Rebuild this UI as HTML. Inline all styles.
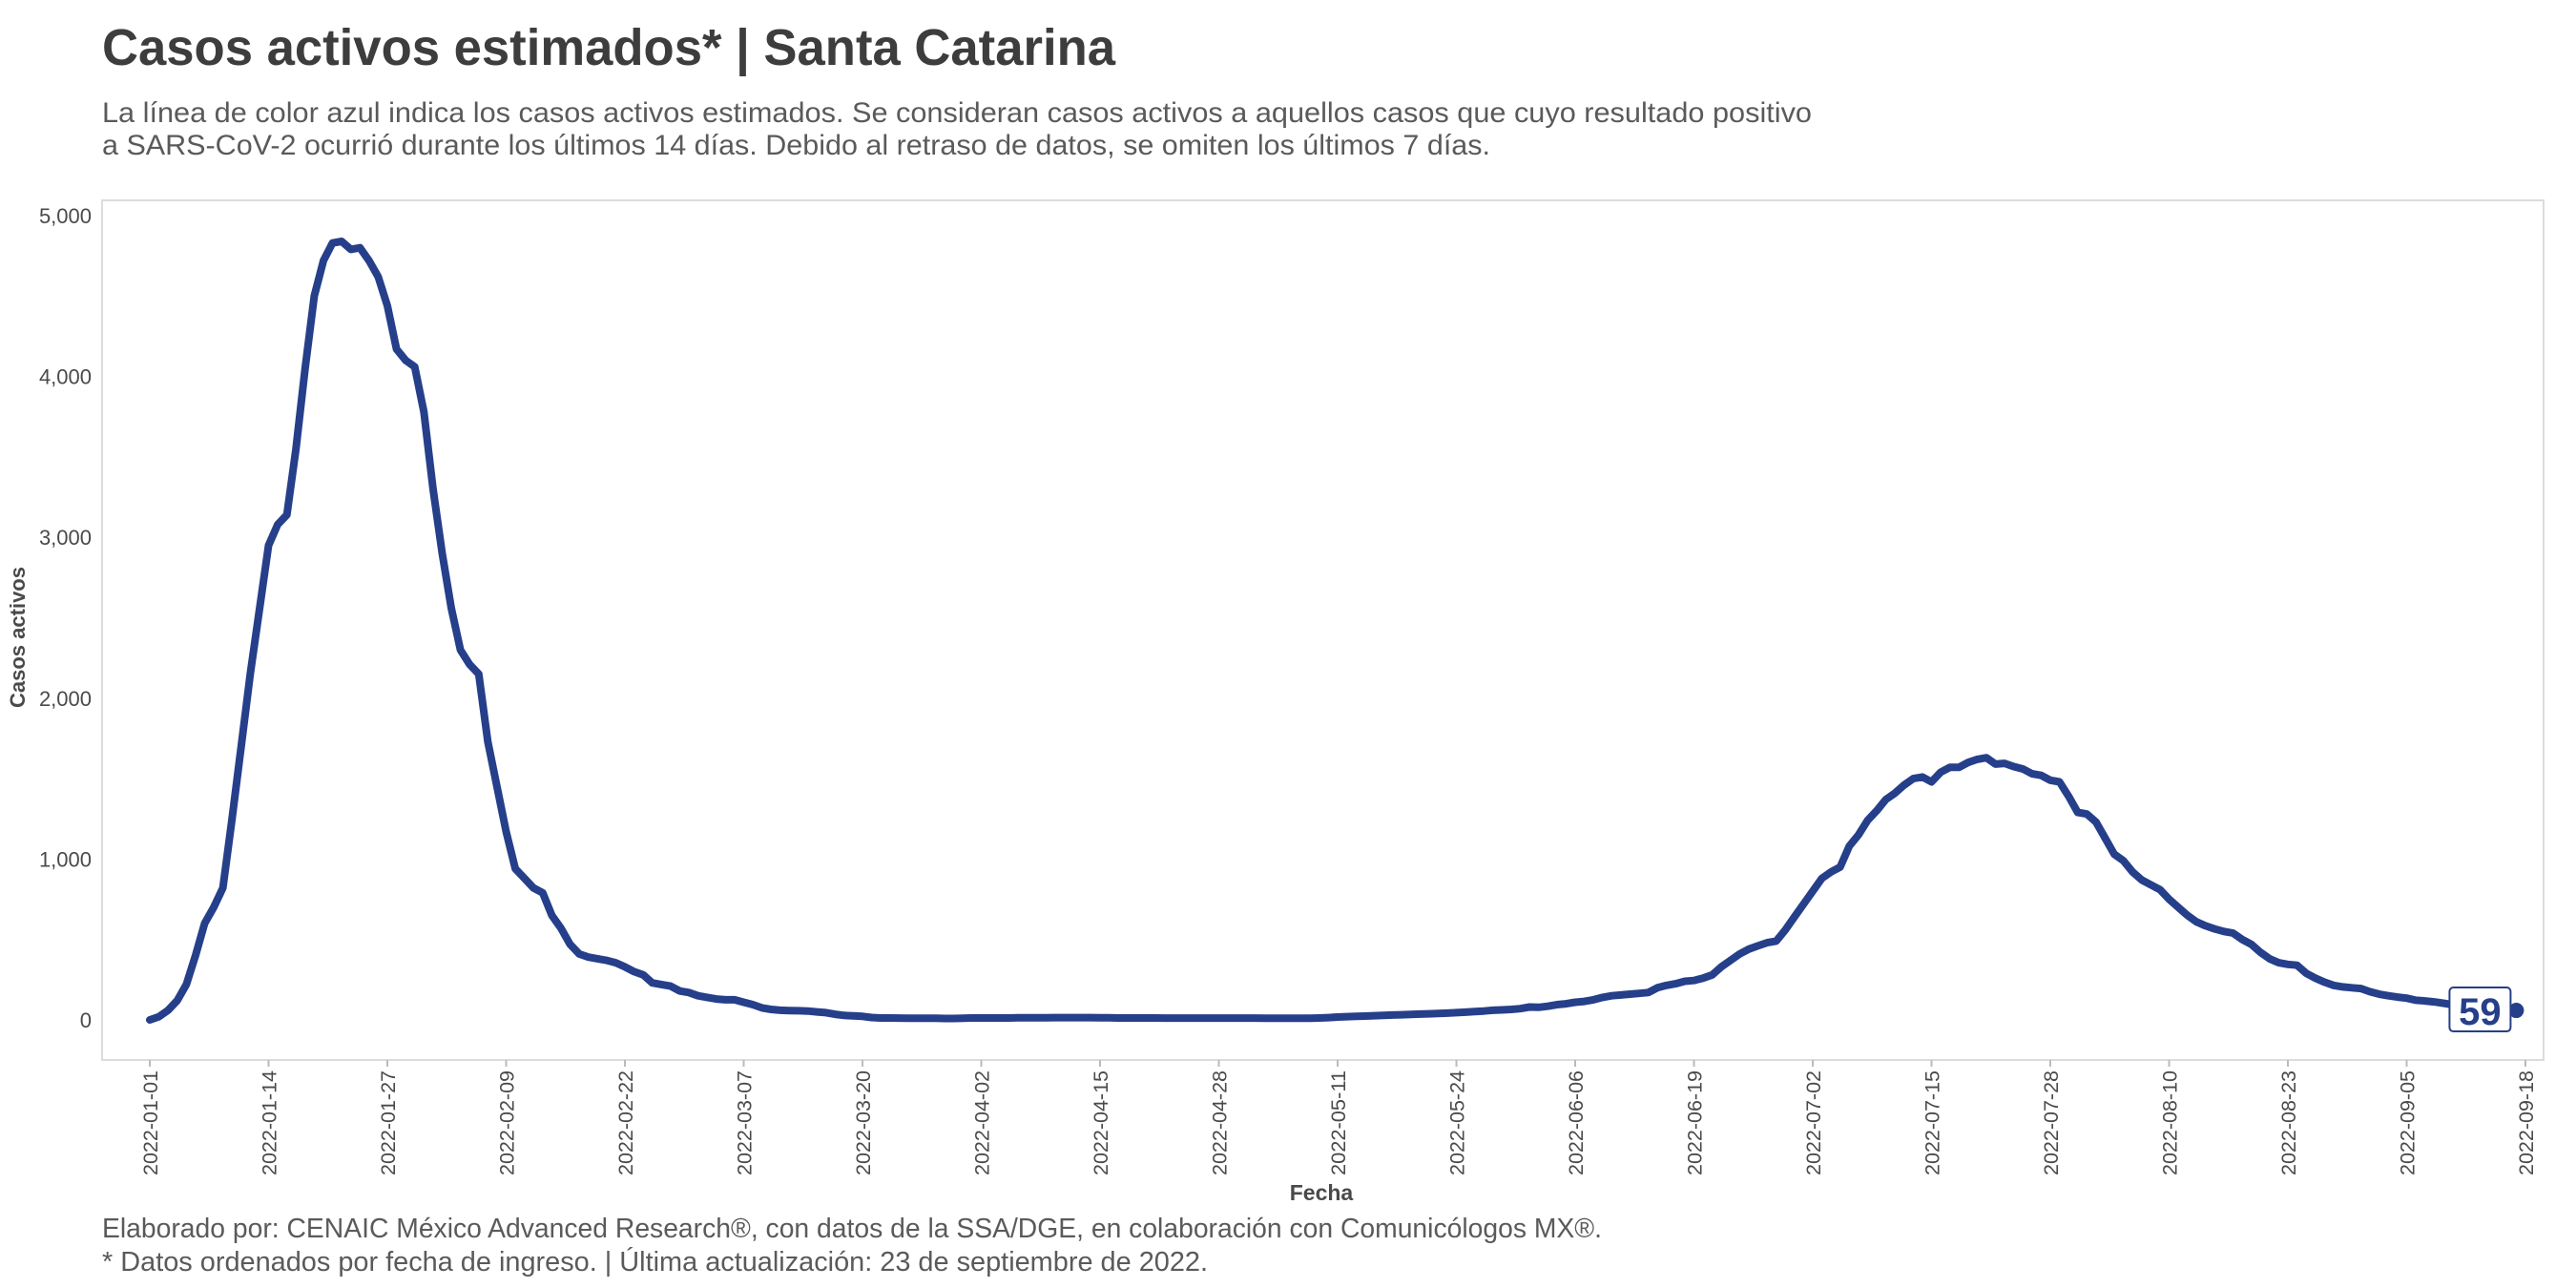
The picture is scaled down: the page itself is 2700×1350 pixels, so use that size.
<!DOCTYPE html>
<html><head><meta charset="utf-8"><style>
html,body{margin:0;padding:0;background:#fff}
svg{display:block;font-family:"Liberation Sans",sans-serif}
</style></head><body>
<svg id="chart" width="2700" height="1350" viewBox="0 0 2700 1350" xmlns="http://www.w3.org/2000/svg">
<text x="107" y="68" font-size="54" font-weight="bold" fill="#3d3d3d" textLength="1062" lengthAdjust="spacingAndGlyphs">Casos activos estimados* | Santa Catarina</text>
<text x="107" y="128" font-size="30" fill="#5a5a5a" textLength="1792" lengthAdjust="spacingAndGlyphs">La línea de color azul indica los casos activos estimados. Se consideran casos activos a aquellos casos que cuyo resultado positivo</text>
<text x="107" y="162" font-size="30" fill="#5a5a5a" textLength="1455" lengthAdjust="spacingAndGlyphs">a SARS-CoV-2 ocurrió durante los últimos 14 días. Debido al retraso de datos, se omiten los últimos 7 días.</text>
<rect x="107" y="210" width="2559" height="901" fill="none" stroke="#dcdcdc" stroke-width="2"/>
<g id="yaxis"></g>
<g id="xaxis"></g>
<text transform="translate(26,668) rotate(-90)" text-anchor="middle" font-size="22" font-weight="bold" fill="#4a4a4a">Casos activos</text>
<text x="1385" y="1258" text-anchor="middle" font-size="23" font-weight="bold" fill="#4a4a4a">Fecha</text>
<path id="series" fill="none" stroke="#263f8a" stroke-width="8" stroke-linejoin="round" stroke-linecap="round"/>
<g id="endmark"></g>
<text x="107" y="1297" font-size="29" fill="#5a5a5a" textLength="1572" lengthAdjust="spacingAndGlyphs">Elaborado por: CENAIC México Advanced Research®, con datos de la SSA/DGE, en colaboración con Comunicólogos MX®.</text>
<text x="107" y="1332" font-size="29" fill="#5a5a5a" textLength="1159" lengthAdjust="spacingAndGlyphs">* Datos ordenados por fecha de ingreso. | Última actualización: 23 de septiembre de 2022.</text>
</svg>
<script>
const startDate = "2022-01-01";
const jan = [0,20,60,120,220,400,600,700,820,1250,1700,2150,2550,2950,3080,3140,3550,4050,4500,4720,4830,4840,4790,4800,4720,4620,4440,4170,4100,4060,3780];
const feb = [3300,2900,2560,2300,2210,2150,1730,1450,1170,940,880,820,790,650,570,470,410,390,380,370,355,330,300,280,230,220,210,180];
const mar = [170,150,140,130,125,125,110,95,75,65,60,58,57,55,50,45,35,28,25,22,15,12,12,11,10,10,10,10,9,9,10];
const apr = [12,12,12,12,12,13,13,13,13,14,14,14,14,14,13,13,12,12,12,12,12,11,11,11,11,11,11,11,11,11];
const may = [11,11,10,10,10,10,10,10,12,14,18,20,22,24,26,28,30,32,34,36,38,40,42,45,48,52,55,60,62,65,70];
const jun = [80,78,85,95,100,110,115,125,140,150,155,160,165,170,200,215,225,240,245,260,280,330,370,410,440,460,480,490,560,640];
const jul = [720,800,880,920,950,1080,1150,1240,1300,1370,1410,1460,1500,1510,1480,1540,1570,1570,1600,1620,1630,1590,1595,1575,1560,1530,1520,1490,1480,1390,1290];
const aug = [1280,1230,1130,1030,990,920,870,840,810,750,700,650,610,585,565,550,540,500,470,420,380,355,345,340,290,260,235,215,205,200,195];
const sep = [175,160,150,142,135,122,118,112,104,95,90,82,76,70,66,62,59];
const yTicks = [0,1000,2000,3000,4000,5000];
const yTickLabels = ["0","1,000","2,000","3,000","4,000","5,000"];
const xTickLabels = ["2022-01-01","2022-01-14","2022-01-27","2022-02-09","2022-02-22","2022-03-07","2022-03-20","2022-04-02","2022-04-15","2022-04-28","2022-05-11","2022-05-24","2022-06-06","2022-06-19","2022-07-02","2022-07-15","2022-07-28","2022-08-10","2022-08-23","2022-09-05","2022-09-18"];

const values = [].concat(jan,feb,mar,apr,may,jun,jul,aug,sep);
const NS = "http://www.w3.org/2000/svg";
const t0 = Date.parse(startDate+"T00:00:00Z");
function dayIndex(s){return (Date.parse(s+"T00:00:00Z")-t0)/86400000;}
function xScale(d){return 157 + d*(2647-157)/260;}
function yScale(v){return 1069 - v*(1069-226)/5000;}

const ya = document.getElementById('yaxis');
yTicks.forEach((v,i)=>{
  const t = document.createElementNS(NS,'text');
  
  
  t.setAttribute('x',96); t.setAttribute('y',yScale(v)+8);
  t.setAttribute('text-anchor','end'); t.setAttribute('font-size','22'); t.setAttribute('fill','#4a4a4a');
  t.textContent = yTickLabels[i]; ya.appendChild(t);
});
const xa = document.getElementById('xaxis');
xTickLabels.forEach(s=>{
  const x = xScale(dayIndex(s));
  const l = document.createElementNS(NS,'line');
  
  
  l.setAttribute('x1',x); l.setAttribute('x2',x); l.setAttribute('y1',1111); l.setAttribute('y2',1118);
  l.setAttribute('stroke','#bbb'); l.setAttribute('stroke-width','2'); xa.appendChild(l);
  const t = document.createElementNS(NS,'text');
  
  
  t.setAttribute('transform','translate('+(x+8)+',1122) rotate(-90)');
  t.setAttribute('text-anchor','end'); t.setAttribute('font-size','21'); t.setAttribute('fill','#4a4a4a');
  t.setAttribute('textLength','110'); t.setAttribute('lengthAdjust','spacingAndGlyphs');
  t.textContent = s; xa.appendChild(t);
});
let d = "";
values.forEach((v,i)=>{ d += (i?"L":"M")+xScale(i).toFixed(1)+","+yScale(v).toFixed(1); });
document.getElementById('series').setAttribute('d',d);

const li = values.length-1, lx = xScale(li), lyv = yScale(values[li]);
const em = document.getElementById('endmark');
const c = document.createElementNS(NS,'circle');


c.setAttribute('cx',lx); c.setAttribute('cy',lyv); c.setAttribute('r',8); c.setAttribute('fill','#263f8a');
em.appendChild(c);
const r = document.createElementNS(NS,'rect');


r.setAttribute('x',lx-70); r.setAttribute('y',lyv-24); r.setAttribute('width',64); r.setAttribute('height',46);
r.setAttribute('rx',4); r.setAttribute('fill','#fff'); r.setAttribute('stroke','#263f8a'); r.setAttribute('stroke-width','2');
em.appendChild(r);
const lt = document.createElementNS(NS,'text');


lt.setAttribute('x',lx-38); lt.setAttribute('y',lyv+15); lt.setAttribute('text-anchor','middle');
lt.setAttribute('font-size','40'); lt.setAttribute('font-weight','bold'); lt.setAttribute('fill','#263f8a');
lt.textContent = String(values[li]); em.appendChild(lt);
</script>
</body></html>
